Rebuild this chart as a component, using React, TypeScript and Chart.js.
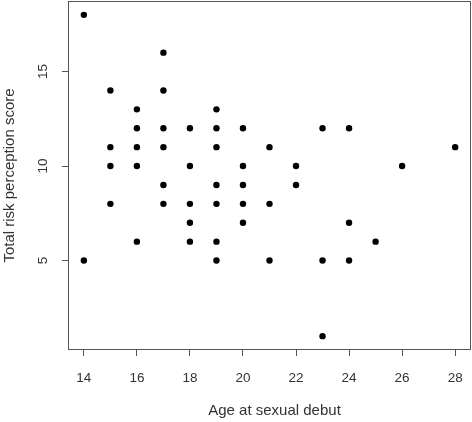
import React, { useEffect, useRef } from "react";
import { Chart, registerables } from "chart.js";

Chart.register(...registerables);

const ageValues = [14, 14, 15, 15, 15, 15, 16, 16, 16, 16, 16, 17, 17, 17, 17, 17, 17, 18, 18, 18, 18, 18, 19, 19, 19, 19, 19, 19, 19, 20, 20, 20, 20, 20, 21, 21, 21, 22, 22, 23, 23, 23, 24, 24, 24, 25, 26, 28];
const scoreValues = [18, 5, 14, 11, 10, 8, 13, 12, 11, 10, 6, 16, 14, 12, 11, 9, 8, 12, 10, 8, 7, 6, 13, 12, 11, 9, 8, 6, 5, 12, 10, 9, 8, 7, 11, 8, 5, 10, 9, 12, 5, 1, 12, 7, 5, 6, 10, 11];
const xTicks = [14, 16, 18, 20, 22, 24, 26, 28];
const yTicks = [5, 10, 15];
const xTitle = "Age at sexual debut";
const yTitle = "Total risk perception score";

const FONT = "'Liberation Sans', Arial, sans-serif";
const TEXT = "#333333";
const LINE = "#555555";

function rangeWithPad(vals: number[]) {
  const mn = Math.min(...vals);
  const mx = Math.max(...vals);
  const p = (mx - mn) * 0.04;
  return [mn - p, mx + p];
}

export default function App() {
  const ref = useRef<HTMLCanvasElement | null>(null);
  useEffect(() => {
    if (!ref.current) return;
    const [xmin, xmax] = rangeWithPad(ageValues);
    const [ymin, ymax] = rangeWithPad(scoreValues);
    const boxPlugin = {
      id: "boxAndLabels",
      afterDraw(chart: any) {
        const { ctx, chartArea } = chart;
        ctx.save();
        ctx.strokeStyle = LINE;
        ctx.lineWidth = 1;
        ctx.strokeRect(
          Math.round(chartArea.left) - 0.5,
          Math.round(chartArea.top) - 0.5,
          Math.round(chartArea.right - chartArea.left) + 1,
          Math.round(chartArea.bottom - chartArea.top) + 1
        );
        const ys = chart.scales.y;
        ctx.fillStyle = TEXT;
        ctx.font = `13.5px ${FONT}`;
        ctx.textAlign = "center";
        ctx.textBaseline = "middle";
        for (const v of yTicks) {
          ctx.save();
          ctx.translate(43, ys.getPixelForValue(v));
          ctx.rotate(-Math.PI / 2);
          ctx.fillText(String(v), 0, 0);
          ctx.restore();
        }
        ctx.font = `15px ${FONT}`;
        ctx.fillText(xTitle, (chartArea.left + chartArea.right) / 2 + 5, 411);
        ctx.restore();
      },
    };
    const zeroPad = (s: any) => {
      s.paddingLeft = 0;
      s.paddingRight = 0;
      s.paddingTop = 0;
      s.paddingBottom = 0;
    };
    const chart = new Chart(ref.current, {
      type: "scatter",
      data: {
        datasets: [
          {
            data: ageValues.map((a, i) => ({ x: a, y: scoreValues[i] })),
            backgroundColor: "#000000",
            borderWidth: 0,
            pointRadius: 3.2,
          },
        ],
      },
      options: {
        responsive: false,
        animation: false,
        layout: { autoPadding: false, padding: { top: 2, right: 2, left: 0, bottom: 0 } },
        plugins: { legend: { display: false }, tooltip: { enabled: false } },
        scales: {
          x: {
            type: "linear",
            min: xmin,
            max: xmax,
            afterBuildTicks: (s: any) => {
              s.ticks = xTicks.map((v) => ({ value: v }));
            },
            afterFit: (s: any) => {
              s.height = 73;
              zeroPad(s);
            },
            grid: { drawOnChartArea: false, drawTicks: true, tickLength: 7, color: LINE },
            border: { display: false },
            ticks: {
              color: TEXT,
              font: { family: FONT, size: 13.5 },
              padding: 14,
              maxRotation: 0,
              autoSkip: false,
            },
            title: { display: false },
          },
          y: {
            type: "linear",
            min: ymin,
            max: ymax,
            afterBuildTicks: (s: any) => {
              s.ticks = yTicks.map((v) => ({ value: v }));
            },
            afterFit: (s: any) => {
              s.width = 69;
              zeroPad(s);
            },
            grid: { drawOnChartArea: false, drawTicks: true, tickLength: 7, color: LINE },
            border: { display: false },
            ticks: { display: false },
            title: {
              display: true,
              text: yTitle,
              color: TEXT,
              font: { family: FONT, size: 15 },
              padding: { top: 1, bottom: 0 },
            },
          },
        },
      },
      plugins: [boxPlugin],
    } as any);
    return () => chart.destroy();
  }, []);
  return (
    <div style={{ position: "fixed", left: 0, top: 0, width: 472, height: 422, background: "#fff" }}>
      <canvas ref={ref} width={472} height={422} style={{ display: "block" }} />
    </div>
  );
}
